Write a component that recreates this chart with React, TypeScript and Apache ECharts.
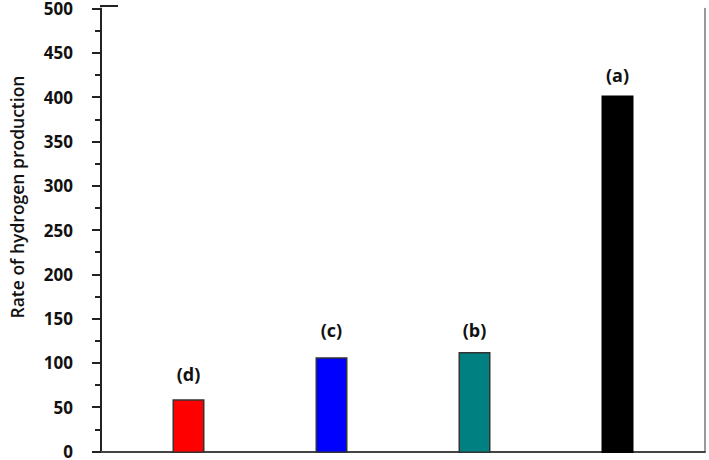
import React, { useEffect, useRef } from "react";
import * as echarts from "echarts";

const categories = ["(d)", "(c)", "(b)", "(a)"];
const values = [60, 107, 113, 400];
const barColors = ["#FF0000", "#0000FF", "#008080", "#000000"];
const labelGaps = [16, 18, 13, 11];
const yTicks = [0, 50, 100, 150, 200, 250, 300, 350, 400, 450, 500];
const yTitle = "Rate of hydrogen production";

export default function App() {
  const ref = useRef<HTMLDivElement>(null);
  useEffect(() => {
    if (!ref.current) return;
    const chart = echarts.init(ref.current, null, { renderer: "svg" });
    const font = "'Open Sans', 'Liberation Sans', sans-serif";
    chart.setOption({
      animation: false,
      backgroundColor: "#ffffff",
      grid: [
        { left: 101, right: 4, top: 6, bottom: 7 },
        { left: 117, right: 20, top: 6, bottom: 7 },
      ],
      xAxis: [
        {
          gridIndex: 0,
          type: "value",
          min: 0,
          max: 1,
          axisLine: { show: true, onZero: false, lineStyle: { color: "#444", width: 2 } },
          axisTick: { show: false },
          axisLabel: { show: false },
          splitLine: { show: false },
        },
        {
          gridIndex: 1,
          type: "category",
          data: categories,
          axisLine: { show: false },
          axisTick: { show: false },
          axisLabel: { show: false },
        },
      ],
      yAxis: [
        {
          gridIndex: 0,
          type: "value",
          min: yTicks[0],
          max: yTicks[yTicks.length - 1],
          interval: 50,
          position: "left",
          axisLine: { show: true, onZero: false, lineStyle: { color: "#222", width: 2 } },
          axisTick: { show: true, length: 9, lineStyle: { color: "#222", width: 2 } },
          minorTick: { show: true, splitNumber: 2, length: 6, lineStyle: { color: "#222", width: 2 } },
          axisLabel: {
            margin: 28,
            color: "#111",
            fontWeight: "bold",
            fontSize: 17,
            lineHeight: 14,
            fontFamily: font,
          },
          splitLine: { show: false },
        },
        {
          gridIndex: 0,
          type: "value",
          min: 0,
          max: 500,
          position: "right",
          axisLine: { show: true, onZero: false, lineStyle: { color: "#777", width: 1.5 } },
          axisTick: { show: false },
          axisLabel: { show: false },
          splitLine: { show: false },
        },
        {
          gridIndex: 1,
          type: "value",
          min: 0,
          max: 500,
          show: false,
        },
      ],
      graphic: [
        {
          type: "line",
          shape: { x1: 100, y1: 6, x2: 118, y2: 6 },
          style: { stroke: "#222", lineWidth: 2 },
        },
        {
          type: "text",
          x: 17,
          y: 197,
          rotation: Math.PI / 2,
          style: {
            text: yTitle,
            align: "center",
            verticalAlign: "middle",
            fontSize: 17.5,
            fontWeight: 600,
            fontFamily: font,
            fill: "#111",
          },
        },
      ],
      series: [
        {
          type: "bar",
          xAxisIndex: 1,
          yAxisIndex: 2,
          barWidth: 32,
          data: values.map((v, i) => ({
            value: v,
            itemStyle: {
              color: barColors[i],
              borderColor: "#333",
              borderWidth: i === 3 ? 0 : 1.5,
            },
            label: {
              show: true,
              position: "top",
              distance: labelGaps[i],
              formatter: categories[i],
              fontWeight: "bold",
              fontSize: 18,
              fontFamily: font,
              color: "#111",
            },
          })),
        },
      ],
    });
    return () => chart.dispose();
  }, []);
  return (
    <div
      ref={ref}
      style={{ position: "fixed", left: 0, top: 0, width: 709, height: 460 }}
    />
  );
}
